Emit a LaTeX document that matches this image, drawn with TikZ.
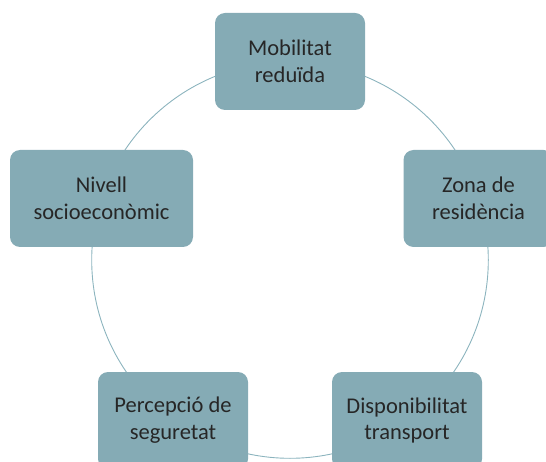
\documentclass[tikz,border=0pt]{standalone}
\usepackage{fontspec}
\setmainfont{Carlito}
\definecolor{boxblue}{RGB}{133,171,181}
\definecolor{ringblue}{RGB}{140,180,190}
\tikzset{
	factor/.style={rectangle, rounded corners=10pt, fill=boxblue, minimum width=150pt, minimum height=97pt, align=center, text=black!85, font=\fontsize{22.5}{27}\selectfont, inner sep=2pt},
}
\begin{document}
\begin{tikzpicture}[x=1pt, y=-1pt, line join=round, line cap=round]
	\useasboundingbox (0,0) rectangle (546,462);
	\clip (0,0) rectangle (546,462);
	% anell
	\draw[ringblue, line width=0.9pt] (290,260) circle (198.3pt);
	\node[factor] (mob) at (290,61.5) {Mobilitat\\reduïda};
	\node[factor] (zona) at (478.5,198.5) {Zona de\\residència};
	\node[factor] (disp) at (407,420.5) {Disponibilitat\\transport};
	\node[factor] (perc) at (173,420.5) {Percepció de\\seguretat};
	\node[factor, minimum width=183pt] (niv) at (101.5,198.5) {Nivell\\socioeconòmic};
\end{tikzpicture}
\end{document}
